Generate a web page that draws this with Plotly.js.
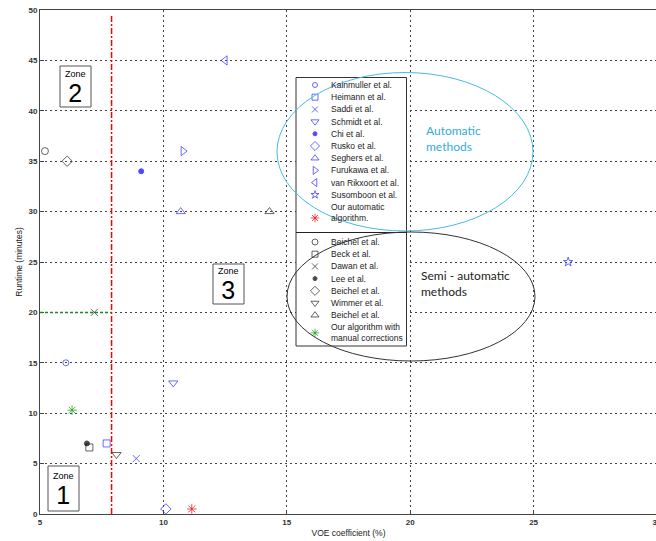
<!DOCTYPE html>
<html>
<head>
<meta charset="utf-8">
<script src="https://cdn.plot.ly/plotly-3.0.1.min.js"></script>
<style>html,body{margin:0;padding:0;overflow:hidden;background:#fff;}#chart{width:670px;height:541px;}</style>
</head>
<body>
<div id="chart"></div>
<script>
// ---------------- DATA ----------------
const autoNames = ['Kainmuller et al.','Heimann et al.','Saddi et al.','Schmidt et al.','Chi et al.','Rusko et al.','Seghers et al.','Furukawa et al.','van Rikxoort et al.','Susomboon et al.','Our automatic<br>algorithm.'];
const autoVOE = [6.05, 7.7, 8.9, 10.4, 9.1, 10.1, 10.7, 10.8, 12.5, 26.4, 11.15];
const autoRuntime = [15, 7, 5.5, 13, 34, 0.5, 30, 36, 45, 25, 0.5];

const semiNames = ['Beichel et al.','Beck et al.','Dawan et al.','Lee et al.','Beichel et al.','Wimmer et al.','Beichel et al.','Our algorithm with<br>manual corrections'];
const semiVOE = [5.2, 7.0, 7.2, 6.9, 6.1, 8.1, 14.3, 6.3];
const semiRuntime = [36, 6.6, 20, 7.0, 35, 5.9, 30, 10.3];

const zoneLabels = ['1', '2', '3'];
const voeThreshold = 7.9;
const runtimeThreshold = 20;
const xTicks = [5, 10, 15, 20, 25, 30];
const yTicks = [0, 5, 10, 15, 20, 25, 30, 35, 40, 45, 50];

// ---------------- STYLES ----------------
const autoSymbols = ['circle-open','square-open','x-thin-open','triangle-down-open','circle','diamond-open','triangle-up-open','triangle-right-open','triangle-left-open','star-open','asterisk-open'];
const autoSizes = [6, 7, 7, 8, 5, 8, 8, 8, 8, 7, 8];
const autoColors = ['#2b2bff','#2b2bff','#2b2bff','#2b2bff','#0000ff','#2b2bff','#2b2bff','#2b2bff','#2b2bff','#2b2bff','#ff0000'];
const semiSymbols = ['circle-open','square-open','x-thin-open','circle','diamond-open','triangle-down-open','triangle-up-open','asterisk-open'];
const semiSizes = [7, 7, 7, 5, 8, 8, 8, 8];
const semiColors = ['#222','#222','#222','#000','#222','#222','#222','#119911'];

// ---------------- LAYOUT HELPERS (pixel -> axis units) ----------------
const PL = 40, PR = 657, PT = 10, PB = 514;
const X0 = 5, X1 = 30, Y0 = 0, Y1 = 50;
const pxX = p => X0 + (p - PL) * (X1 - X0) / (PR - PL);
const pxY = p => Y0 + (PB - p) * (Y1 - Y0) / (PB - PT);

// legend row layout (pixel rows)
const rowPitch = 12.2;
const autoTextRows = autoNames.map((n, i) => i < autoNames.length - 1 ? 85 + rowPitch * i : 85 + rowPitch * (i + 0.45));
const autoMarkRows = autoNames.map((n, i) => i < autoNames.length - 1 ? 85 + rowPitch * i : 85 + rowPitch * (i + 0.9));
const semiTextRows = semiNames.map((n, i) => i < semiNames.length - 1 ? 242 + rowPitch * i : 242 + rowPitch * (i + 0.45));
const semiMarkRows = semiTextRows;
const legMarkX = pxX(315), legTextX = pxX(329);

const traces = [
  {x: autoVOE, y: autoRuntime, mode: 'markers', type: 'scatter', name: 'Automatic', hoverinfo: 'skip',
   marker: {symbol: autoSymbols, size: autoSizes, color: autoColors, line: {color: autoColors, width: 1}}},
  {x: semiVOE, y: semiRuntime, mode: 'markers', type: 'scatter', name: 'Semi-automatic', hoverinfo: 'skip',
   marker: {symbol: semiSymbols, size: semiSizes, color: semiColors, line: {color: semiColors, width: 1}}},
  // legend markers
  {x: autoNames.map(() => legMarkX), y: autoMarkRows.map(pxY), mode: 'markers', type: 'scatter', hoverinfo: 'skip',
   marker: {symbol: autoSymbols, size: autoSizes.map(s => s - 1), color: autoColors, line: {color: autoColors, width: 1}}},
  {x: semiNames.map(() => legMarkX), y: semiMarkRows.map(pxY), mode: 'markers', type: 'scatter', hoverinfo: 'skip',
   marker: {symbol: semiSymbols, size: semiSizes.map(s => s - 1), color: semiColors, line: {color: semiColors, width: 1}}}
];

const legendFont = {family: 'Arial, Liberation Sans, sans-serif', size: 8.5, color: '#222'};
const annotations = [];
autoNames.forEach((n, i) => annotations.push({x: legTextX, y: pxY(autoTextRows[i]), text: n, showarrow: false, xanchor: 'left', yanchor: 'middle', align: 'left', font: legendFont}));
semiNames.forEach((n, i) => annotations.push({x: legTextX, y: pxY(semiTextRows[i]), text: n, showarrow: false, xanchor: 'left', yanchor: 'middle', align: 'left', font: legendFont}));

annotations.push({x: pxX(424), y: pxY(138), text: 'Automatic<br>methods', showarrow: false, xanchor: 'left', yanchor: 'middle', align: 'left', font: {family: 'Lato, sans-serif', size: 12, color: '#33aae2'}});
annotations.push({x: pxX(419), y: pxY(283.5), text: 'Semi - automatic<br>methods', showarrow: false, xanchor: 'left', yanchor: 'middle', align: 'left', font: {family: 'Lato, sans-serif', size: 12, color: '#222'}});

// zone boxes: [label, box centre px x, box top px, box bottom px]
const zoneBoxes = [[zoneLabels[0], 63.5, 466, 511], [zoneLabels[1], 75.5, 66, 107], [zoneLabels[2], 228.5, 264, 304]];
const shapes = [];
zoneBoxes.forEach(z => {
  shapes.push({type: 'rect', xref: 'x', yref: 'y', x0: pxX(z[1] - 15.5), x1: pxX(z[1] + 15.5), y0: pxY(z[3]), y1: pxY(z[2]), line: {color: '#555', width: 1}, fillcolor: 'white', layer: 'between'});
  annotations.push({x: pxX(z[1]), y: pxY((z[2] + z[3]) / 2 + 1), text: "<span style='font-size:9px'>Zone</span><br><span style='font-size:25px'>" + z[0] + "</span>",
    showarrow: false, xanchor: 'center', yanchor: 'middle', align: 'center', font: {family: 'Arial, Liberation Sans, sans-serif', size: 19, color: '#000'}});
});

// legend box
shapes.push({type: 'rect', xref: 'x', yref: 'y', x0: pxX(296), x1: pxX(406.5), y0: pxY(346), y1: pxY(77.5), line: {color: '#333', width: 1}, fillcolor: 'white', layer: 'between'});
shapes.push({type: 'line', xref: 'x', yref: 'y', x0: pxX(296), x1: pxX(406.5), y0: pxY(232.5), y1: pxY(232.5), line: {color: '#222', width: 1}, layer: 'between'});
// ellipses
shapes.push({type: 'circle', xref: 'x', yref: 'y', x0: pxX(277), x1: pxX(533), y0: pxY(231), y1: pxY(72.5), line: {color: '#4ab8e8', width: 1}, layer: 'above'});
shapes.push({type: 'circle', xref: 'x', yref: 'y', x0: pxX(287), x1: pxX(535), y0: pxY(361), y1: pxY(232), line: {color: '#333', width: 1}, layer: 'above'});
// threshold lines
shapes.push({type: 'line', xref: 'x', yref: 'y', x0: voeThreshold, x1: voeThreshold, y0: 0, y1: pxY(15), line: {color: 'red', width: 1.5, dash: '6px,2px,2px,2px'}, layer: 'above'});
shapes.push({type: 'line', xref: 'x', yref: 'y', x0: X0, x1: voeThreshold, y0: runtimeThreshold, y1: runtimeThreshold, line: {color: '#1a8a1a', width: 1.5, dash: '3px,2px'}, layer: 'above'});

const axisCommon = {
  showgrid: true, gridcolor: '#444', gridwidth: 1, griddash: '2px,3px',
  showline: true, linecolor: '#444', linewidth: 1, mirror: true,
  ticks: 'inside', ticklen: 4, tickcolor: '#444', zeroline: false,
  tickfont: {family: 'Arial, Liberation Sans, sans-serif', size: 8, color: '#333', weight: 'bold'}
};

const layout = {
  width: 670, height: 541,
  margin: {l: PL, r: 670 - PR, t: PT, b: 541 - PB},
  paper_bgcolor: 'white', plot_bgcolor: 'white',
  showlegend: false,
  xaxis: Object.assign({}, axisCommon, {range: [X0, X1], tickvals: xTicks, ticktext: xTicks.map(String),
    title: {text: 'VOE coefficient (%)', standoff: 4, font: {family: 'Arial, Liberation Sans, sans-serif', size: 8.5, color: '#222'}}}),
  yaxis: Object.assign({}, axisCommon, {range: [Y0, Y1], tickvals: yTicks, ticktext: yTicks.map(String),
    title: {text: 'Runtime (minutes)', standoff: 4, font: {family: 'Arial, Liberation Sans, sans-serif', size: 8.5, color: '#222'}}}),
  shapes: shapes,
  annotations: annotations
};

Plotly.newPlot('chart', traces, layout, {staticPlot: true, displayModeBar: false});
</script>
</body>
</html>
